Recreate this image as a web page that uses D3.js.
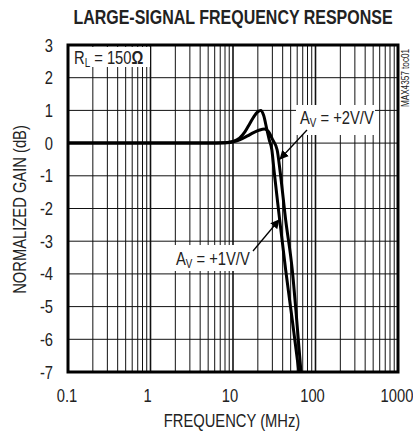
<!DOCTYPE html>
<html>
<head>
<meta charset="utf-8">
<script src="https://cdn.jsdelivr.net/npm/d3@7"></script>
<style>
  body { margin: 0; background: #fff; }
  text { font-family: "Liberation Sans", Arial, sans-serif; fill: #222; }
</style>
</head>
<body>
<div id="chart"></div>
<script>
// data
var xTicks = [0.1, 1, 10, 100, 1000];
var xTickLabels = ["0.1", "1", "10", "100", "1000"];
var yTicks = [3, 2, 1, 0, -1, -2, -3, -4, -5, -6, -7];

var av1Freq = [0.1, 1, 5, 8, 10, 12, 14, 16, 18, 20, 21.7, 23.5, 25.8, 27.5, 29.6, 31.4, 36.8, 43.5, 52.3, 63];
var av1Gain = [0, 0, 0, 0.01, 0.05, 0.15, 0.35, 0.6, 0.82, 0.96, 1.0, 0.85, 0.4, 0.1, -0.21, -0.83, -2.35, -3.88, -5.41, -7];

var av2Freq = [0.1, 1, 5, 8, 10, 12, 15, 18, 21, 24, 27, 30, 34.3, 37.1, 43.5, 52.3, 59.2, 66.7];
var av2Gain = [0, 0, 0, 0.01, 0.04, 0.1, 0.22, 0.33, 0.4, 0.43, 0.35, 0.12, -0.21, -0.83, -2.35, -3.88, -5.41, -7];

var svgWidth = 413;
var svgHeight = 435;
var margin = { top: 45, right: 15, bottom: 63, left: 68 };
var width = svgWidth - margin.left - margin.right;
var height = svgHeight - margin.top - margin.bottom;
var narrow = 0.82; // squeeze to look like Helvetica Narrow

var svg = d3.select("#chart")
  .append("svg")
  .attr("width", svgWidth)
  .attr("height", svgHeight);

var chartGroup = svg.append("g")
  .attr("transform", `translate(${margin.left}, ${margin.top})`);

// narrow text helper: position, optional rotation, then squeeze
function ntext(parent, tx, ty, rot, size, anchor) {
  return parent.append("g")
    .attr("transform", `translate(${tx}, ${ty}) rotate(${rot || 0}) scale(${narrow}, 1)`)
    .append("text")
    .attr("font-size", size)
    .attr("text-anchor", anchor || "start");
}

var x = d3.scaleLog().domain([0.1, 1000]).range([0, width]);
var y = d3.scaleLinear().domain([-7, 3]).range([height, 0]);

// vertical grid: 1..9 per decade, decades heavier
var vLines = [];
xTicks.slice(0, -1).forEach(function(d) {
  for (var k = 1; k <= 9; k++) vLines.push({ v: d * k, major: k === 1 });
});
chartGroup.selectAll(".vgrid")
  .data(vLines)
  .enter()
  .append("line")
  .attr("x1", d => x(d.v))
  .attr("x2", d => x(d.v))
  .attr("y1", 0)
  .attr("y2", height)
  .attr("stroke", "#111")
  .attr("stroke-width", d => d.major ? 1.6 : 1);

chartGroup.selectAll(".hgrid")
  .data(yTicks)
  .enter()
  .append("line")
  .attr("x1", 0)
  .attr("x2", width)
  .attr("y1", d => y(d))
  .attr("y2", d => y(d))
  .attr("stroke", "#111")
  .attr("stroke-width", 1);

// R_L label with white box
chartGroup.append("rect")
  .attr("x", 2).attr("y", 2).attr("width", 80).attr("height", 20)
  .attr("fill", "#fff");
var rl = ntext(chartGroup, 6, 19, 0, 18);
rl.append("tspan").text("R");
rl.append("tspan").attr("font-size", 12).attr("dy", 3).text("L");
rl.append("tspan").attr("dy", -3).text(" = 150");
rl.append("tspan").attr("font-weight", "bold").text("Ω");

// curves
var line = d3.line()
  .x(d => x(d[0]))
  .y(d => y(d[1]))
  .curve(d3.curveMonotoneX);

chartGroup.append("path")
  .datum(d3.zip(av2Freq, av2Gain))
  .attr("d", line)
  .attr("fill", "none")
  .attr("stroke", "#000")
  .attr("stroke-width", 3);

chartGroup.append("path")
  .datum(d3.zip(av1Freq, av1Gain))
  .attr("d", line)
  .attr("fill", "none")
  .attr("stroke", "#000")
  .attr("stroke-width", 3);

// annotations
var defs = svg.append("defs");
defs.append("marker")
  .attr("id", "arrow")
  .attr("viewBox", "0 0 10 10")
  .attr("refX", 9).attr("refY", 5)
  .attr("markerWidth", 7).attr("markerHeight", 7)
  .attr("orient", "auto")
  .append("path")
  .attr("d", "M0,0 L10,5 L0,10 z")
  .attr("fill", "#000");

function label(bx, by, bw, bh, tx, ty, gain, ax1, ay1, ax2, ay2) {
  chartGroup.append("rect")
    .attr("x", bx).attr("y", by).attr("width", bw).attr("height", bh)
    .attr("fill", "#fff");
  var t = ntext(chartGroup, tx, ty, 0, 18);
  t.append("tspan").text("A");
  t.append("tspan").attr("font-size", 12).attr("dy", 3).text("V");
  t.append("tspan").attr("dy", -3).text(" = " + gain);
  chartGroup.append("line")
    .attr("x1", ax1).attr("y1", ay1)
    .attr("x2", ax2).attr("y2", ay2)
    .attr("stroke", "#000")
    .attr("stroke-width", 1.3)
    .attr("marker-end", "url(#arrow)");
}
label(228, 60, 79, 30, 232, 78.5, "+2V/V", 239, 85, 212, 114);
label(104, 200, 80, 26, 108, 220, "+1V/V", 185, 206, 211, 175);

// frame
chartGroup.append("rect")
  .attr("width", width).attr("height", height)
  .attr("fill", "none")
  .attr("stroke", "#000")
  .attr("stroke-width", 3);

// tick labels
yTicks.forEach(function(d) {
  ntext(chartGroup, -15, y(d) + 6.5, 0, 18, "end").text(d);
});

xTicks.forEach(function(d, i) {
  var shift = i === 0 ? -1 : (i === xTicks.length - 1 ? -1 : -3);
  ntext(chartGroup, x(d) + shift, height + 30, 0, 18, "middle").text(xTickLabels[i]);
});

// axis titles
ntext(chartGroup, width / 2 - 1, height + 54.5, 0, 18, "middle").text("FREQUENCY (MHz)");
ntext(chartGroup, -42, height / 2 + 1, -90, 18, "middle").text("NORMALIZED GAIN (dB)");

ntext(svg, 233, 24, 0, 19.5, "middle")
  .attr("font-weight", "bold")
  .attr("fill", "#111")
  .text("LARGE-SIGNAL FREQUENCY RESPONSE");

ntext(svg, 409, 78, -90, 10, "middle").text("MAX4357 toc01");
</script>
</body>
</html>
